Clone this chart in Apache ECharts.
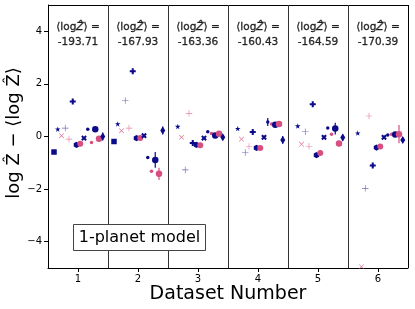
<!DOCTYPE html>
<html><head><meta charset="utf-8">
<script src="https://cdn.jsdelivr.net/npm/echarts@6/dist/echarts.min.js"></script>
<style>html,body{margin:0;padding:0;background:#fff}#c{width:415px;height:309px}</style>
</head><body><div id="c"></div>
<script>
// ---- data ----
const datasets = [1, 2, 3, 4, 5, 6];
const meanLogZ = ['-193.71', '-167.93', '-163.36', '-160.43', '-164.59', '-170.39'];
const xTicks = [1, 2, 3, 4, 5, 6];
const yTicks = [-4, -2, 0, 2, 4];
const dividers = [1.5, 2.5, 3.5, 4.5, 5.5];

const squareNavy  = [-0.59, -0.19, null, null, null, null];
const starNavy    = [0.28, 0.48, 0.38, 0.30, 0.40, 0.13];
const xPink       = [0.03, 0.22, -0.03, -0.10, -0.29, -4.95];
const plusNavy    = [0.32, 1.37, -1.27, -0.61, 0.18, -1.97];
const plusPink    = [-0.10, 0.32, 0.88, -0.38, -0.37, 0.78];
const boldPlusNavy= [1.33, 2.48, -0.25, 0.17, 1.23, -1.10];
const hexNavy     = [-0.32, -0.06, -0.32, -0.43, -0.71, -0.42];
const hexPink     = [-0.28, -0.06, -0.33, -0.44, -0.63, -0.38];
const boldXNavy   = [-0.06, 0.03, -0.06, -0.03, -0.03, -0.03];
const dotNavy     = [0.28, -0.80, 0.18, 0.55, 0.32, 0.06];
const dotPink     = [-0.23, -1.32, 0.11, 0.48, 0.09, 0.09];
const circleNavy  = [0.28, -0.89, 0.04, 0.45, 0.30, 0.08];
const circlePink  = [-0.09, -1.42, 0.10, 0.48, -0.27, 0.09];
const diamondNavy = [0.00, 0.23, -0.03, -0.13, -0.04, -0.13];

const errDotNavy     = [0.03, 0.03, 0.03, 0.15, 0.03, 0.03];
const errCircleNavy  = [0.05, 0.30, 0.05, 0.08, 0.22, 0.05];
const errCirclePink  = [0.05, 0.23, 0.05, 0.05, 0.08, 0.35];
const errDiamondNavy = [0.15, 0.15, 0.10, 0.15, 0.12, 0.10];
const errBoldPlus    = [0.06, 0.06, 0.05, 0.05, 0.05, 0.05];

// ---- styles ----
const NAVY = '#0b0b8a', PINK = '#d64f80';
const STAR = 'path://M0,-1L0.2245,-0.309L0.9511,-0.309L0.3633,0.118L0.5878,0.809L0,0.382L-0.5878,0.809L-0.3633,0.118L-0.9511,-0.309L-0.2245,-0.309Z';
const THIN_PLUS = 'path://M-0.1,-1L0.1,-1L0.1,-0.1L1,-0.1L1,0.1L0.1,0.1L0.1,1L-0.1,1L-0.1,0.1L-1,0.1L-1,-0.1L-0.1,-0.1Z';
const BOLD_PLUS = 'path://M-0.34,-1L0.34,-1L0.34,-0.34L1,-0.34L1,0.34L0.34,0.34L0.34,1L-0.34,1L-0.34,0.34L-1,0.34L-1,-0.34L-0.34,-0.34Z';
const HEX = 'path://M0,-1L0.866,-0.5L0.866,0.5L0,1L-0.866,0.5L-0.866,-0.5Z';

const methods = [
  {vals: squareNavy,   sym: 'rect',    size: 5.5, color: NAVY, op: 1},
  {vals: starNavy,     sym: STAR,      size: 5.5, color: NAVY, op: 1},
  {vals: xPink,        sym: THIN_PLUS, size: 6.5, color: PINK, op: 0.8, rot: 45},
  {vals: plusNavy,     sym: THIN_PLUS, size: 6.5, color: NAVY, op: 0.6},
  {vals: plusPink,     sym: THIN_PLUS, size: 6.5, color: PINK, op: 0.7},
  {vals: boldPlusNavy, sym: BOLD_PLUS, size: 6,   color: NAVY, op: 1, err: errBoldPlus},
  {vals: hexNavy,      sym: HEX,       size: [5.5, 6.3], color: NAVY, op: 1},
  {vals: hexPink,      sym: 'circle',  size: 6,   color: PINK, op: 1},
  {vals: boldXNavy,    sym: BOLD_PLUS, size: 6,   color: NAVY, op: 1, rot: 45},
  {vals: dotNavy,      sym: 'circle',  size: 3.5, color: NAVY, op: 1, err: errDotNavy},
  {vals: dotPink,      sym: 'circle',  size: 3.5, color: PINK, op: 1},
  {vals: circleNavy,   sym: 'circle',  size: 6.5, color: NAVY, op: 1, err: errCircleNavy},
  {vals: circlePink,   sym: 'circle',  size: 6.5, color: PINK, op: 1, err: errCirclePink},
  {vals: diamondNavy,  sym: 'diamond', size: [5, 8], color: NAVY, op: 1, err: errDiamondNavy}
];

const series = [];
methods.forEach((m, i) => {
  const off = -0.4 + i * 0.0625;  // dodge position within each dataset
  const pts = [];
  const errs = [];
  datasets.forEach((d, j) => {
    if (m.vals[j] === null) return;
    pts.push([d + off, m.vals[j]]);
    if (m.err) errs.push([d + off, m.vals[j], m.err[j]]);
  });
  if (m.err) {
    series.push({
      type: 'custom', z: 2, clip: true, silent: true,
      data: errs,
      renderItem: (params, api) => {
        const x = api.value(0), y = api.value(1), e = api.value(2);
        const p1 = api.coord([x, y - e]), p2 = api.coord([x, y + e]);
        return {type: 'line', shape: {x1: p1[0], y1: p1[1], x2: p2[0], y2: p2[1]},
                style: {stroke: m.color, lineWidth: 1.2, opacity: m.op}};
      }
    });
  }
  series.push({
    type: 'scatter', z: 3, clip: true, silent: true,
    symbol: m.sym, symbolSize: m.size, symbolRotate: m.rot || 0,
    itemStyle: {color: m.color, opacity: m.op},
    data: pts
  });
});

// annotations & dividers
const annoFont = {fontSize: 10.5, fontFamily: 'DejaVu Sans', color: '#000', fontWeight: 'normal',
                  textBorderColor: '#000', textBorderWidth: 0.35};
series.push({
  type: 'scatter', symbolSize: 0, silent: true, z: 5,
  data: datasets.map(d => [d, 4.14]),
  label: Object.assign({show: true, position: 'inside',
    formatter: () => '{a|⟨log}{z|Ẑ}{a|⟩ =}',
    rich: {a: Object.assign({}, annoFont), z: Object.assign({fontStyle: 'italic'}, annoFont)}}, annoFont),
  markLine: {
    silent: true, symbol: 'none', label: {show: false},
    lineStyle: {color: '#333', width: 1, type: 'solid'},
    data: dividers.map(v => ({xAxis: v}))
  }
});
series.push({
  type: 'scatter', symbolSize: 0, silent: true, z: 5,
  data: datasets.map((d, j) => [d, 3.6, meanLogZ[j]]),
  label: Object.assign({show: true, position: 'inside', formatter: p => p.data[2]}, annoFont)
});

const chart = echarts.init(document.getElementById('c'), null, {renderer: 'canvas'});
chart.setOption({
  animation: false,
  backgroundColor: '#fff',
  grid: {left: 48, right: 7, top: 5, bottom: 41, show: false, containLabel: false, outerBoundsMode: 'none'},
  xAxis: {
    type: 'value', min: 0.5, max: 6.5,
    axisLine: {show: true, onZero: false, lineStyle: {color: '#000', width: 1}},
    axisTick: {show: true, length: 4, customValues: xTicks, lineStyle: {color: '#000'}},
    axisLabel: {customValues: xTicks, fontSize: 10, fontFamily: 'DejaVu Sans', color: '#000', margin: 6},
    splitLine: {show: false}
  },
  yAxis: {
    type: 'value', min: -5, max: 5,
    axisLine: {show: true, onZero: false, lineStyle: {color: '#000', width: 1}},
    axisTick: {show: true, length: 4, customValues: yTicks, lineStyle: {color: '#000'}},
    axisLabel: {customValues: yTicks, fontSize: 10, fontFamily: 'DejaVu Sans', color: '#000', margin: 6,
      formatter: v => String(v).replace('-', '\u2212')},
    splitLine: {show: false}
  },
  graphic: [
    {type: 'line', shape: {x1: 48, y1: 5.5, x2: 408.5, y2: 5.5}, style: {stroke: '#000', lineWidth: 1}, silent: true},
    {type: 'line', shape: {x1: 408.5, y1: 5, x2: 408.5, y2: 268}, style: {stroke: '#000', lineWidth: 1}, silent: true},
    {type: 'rect', shape: {x: 73.5, y: 224.5, width: 132, height: 26}, style: {fill: '#fff', stroke: '#444', lineWidth: 1}, z: 10},
    {type: 'text', x: 139.5, y: 237.5, z: 11, style: {text: '1-planet model', fontSize: 16, fontFamily: 'DejaVu Sans', fill: '#000', align: 'center', verticalAlign: 'middle'}},
    {type: 'text', x: 228, y: 294, z: 11, style: {text: 'Dataset Number', fontSize: 19, fontFamily: 'DejaVu Sans', fill: '#000', align: 'center', verticalAlign: 'middle'}},
    {type: 'text', x: 14, y: 133, rotation: Math.PI / 2, z: 11, style: {text: 'log Ẑ − ⟨log Ẑ⟩', fontSize: 18, fontFamily: 'DejaVu Sans', fill: '#000', align: 'center', verticalAlign: 'middle'}}
  ],
  series: series
});
</script></body></html>
